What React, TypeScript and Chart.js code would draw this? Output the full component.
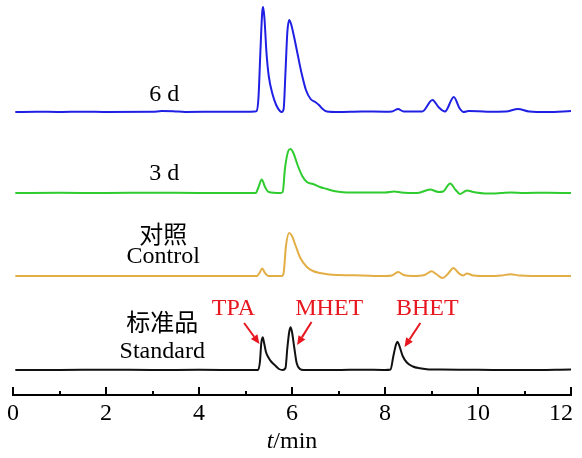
import { useEffect, useRef } from "react";
import { Chart, registerables } from "chart.js";

Chart.register(...registerables);

// ---- data (t in min, signal above each trace's baseline) ----
const xTickValues = [0, 2, 4, 6, 8, 10, 12];
const minorTickValues = [1, 3, 5, 7, 9, 11];

const traceNames = ["6 d", "3 d", "对照 Control", "标准品 Standard"];
const traceOffsets = [283, 202, 119, 25];
const traceColors = ["#2020e4", "#2ecc2e", "#e3ae45", "#111111"];

const t6d = [0.05, 0.5, 1.0, 1.5, 2.0, 3.0, 3.2, 3.45, 3.7, 4.5, 5.0, 5.2, 5.24, 5.28, 5.32, 5.36, 5.38, 5.41, 5.45, 5.5, 5.58, 5.66, 5.74, 5.78, 5.82, 5.86, 5.9, 5.94, 5.98, 6.05, 6.12, 6.2, 6.3, 6.4, 6.5, 6.58, 6.66, 6.75, 7.0, 7.5, 8.0, 8.15, 8.28, 8.4, 8.8, 9.02, 9.15, 9.29, 9.48, 9.6, 9.69, 9.8, 10.2, 10.6, 10.86, 11.1, 11.5, 12.0];
const y6d = [0, 0.3, 0, 0.3, 0, 0.2, 1.0, 0.8, 0, 0.3, 0.2, 0.5, 1, 15, 60, 100, 105, 92, 60, 36, 18, 7, 1, 0, 3, 40, 80, 92, 88, 74, 58, 40, 22, 13, 10, 7, 3, 0.5, 0, 0.5, 0.3, 0.5, 3, 0.5, 0.5, 12, 5, 0.5, 15, 4, 0, 1, 0.3, 0.5, 3, 0.5, 0, 1];

const t3d = [0.05, 1, 2, 3, 4, 5, 5.22, 5.28, 5.35, 5.42, 5.5, 5.75, 5.8, 5.85, 5.92, 5.97, 6.03, 6.12, 6.22, 6.32, 6.45, 6.6, 6.75, 6.9, 7.1, 7.5, 8.0, 8.2, 8.35, 8.7, 8.97, 9.15, 9.25, 9.4, 9.52, 9.61, 9.76, 9.9, 10.2, 10.5, 10.7, 11, 11.5, 12];
const y3d = [0, 0.2, 0, 0.3, 0, 0, 0, 6, 13.5, 6, 1, 0, 1, 25, 42, 44, 40, 28, 17, 11, 9, 6, 4, 2, 0.8, 0.5, 0.5, 1.5, 0.5, 0, 3.5, 1, 1.5, 9.5, 3, -1, 2.5, 1, -0.5, 0, 0.5, 0, 0.3, 0];

const tCtrl = [0.05, 2, 4, 5.0, 5.25, 5.3, 5.36, 5.42, 5.5, 5.78, 5.82, 5.87, 5.94, 6.0, 6.08, 6.18, 6.32, 6.45, 6.6, 6.8, 7.0, 7.5, 8.0, 8.15, 8.28, 8.4, 8.6, 8.85, 9.0, 9.1, 9.24, 9.35, 9.47, 9.58, 9.68, 9.76, 9.9, 10.2, 10.5, 10.7, 10.9, 11.5, 12];
const yCtrl = [0, 0, 0, 0, 0, 3, 7.4, 3, 0, 0, 3, 30, 43, 40, 30, 18, 9, 5, 3, 1.5, 1, 0.5, 0, 0.5, 4, 1, 0, 1, 4.7, 2, -2, 2, 8, 3, 0.5, 2.5, 0.5, 0, 0.5, 1.8, 0.5, 0, 0];

const tStd = [0.05, 1, 2, 3, 4, 5, 5.27, 5.31, 5.34, 5.37, 5.4, 5.44, 5.5, 5.56, 5.65, 5.72, 5.8, 5.86, 5.9, 5.94, 5.97, 6.0, 6.05, 6.1, 6.17, 6.25, 7, 7.5, 8.0, 8.12, 8.18, 8.24, 8.27, 8.31, 8.38, 8.47, 8.6, 8.75, 8.9, 9.2, 10, 11, 12];
const yStd = [0, 0, 0.3, 0, 0.2, 0, 0, 8, 27, 32.7, 27, 18, 12, 8, 4, 1, 0, 2, 22, 38, 42.7, 38, 22, 7, 1, 0, 0, 0.3, 0, 0.5, 14, 26, 28.3, 24, 14, 7.5, 3.5, 1.7, 0.8, 0.4, 0.2, 0, 0.5];

const traceTimes = [t6d, t3d, tCtrl, tStd];
const traceValues = [y6d, y3d, yCtrl, yStd];

// trace labels: [text lines], anchor t, anchor y (chart units)
const traceLabelLines = [["6 d"], ["3 d"], ["对照", "Control"], ["标准品", "Standard"]];
const traceLabelT = [3.25, 3.25, 3.23, 3.21];
const traceLabelY = [[300], [221], [158, 138], [70, 43]];

// peak annotations (standard)
const peakNames = ["TPA", "MHET", "BHET"];
const peakLabelT = [4.74, 6.8, 8.91];
const peakLabelY = [86, 86, 86];
const arrowFromT = [4.97, 6.42, 8.76];
const arrowFromY = [72, 73, 72];
const arrowToT = [5.3, 6.11, 8.42];
const arrowToY = [51, 50, 48];

const SERIF = '"Liberation Serif", "Times New Roman", "Noto Sans CJK SC", serif';
const FS = 24;

const decorPlugin = {
  id: "decor",
  afterDraw(chart: any) {
    const ctx = chart.ctx;
    const xs = chart.scales.x;
    const ys = chart.scales.y;
    const axisY = chart.chartArea.bottom;
    ctx.save();
    // inward tick marks
    ctx.strokeStyle = "#000";
    ctx.lineWidth = 2;
    xTickValues.forEach((v) => {
      const px = Math.round(xs.getPixelForValue(v));
      ctx.beginPath();
      ctx.moveTo(px, axisY);
      ctx.lineTo(px, axisY - 8);
      ctx.stroke();
    });
    minorTickValues.forEach((v) => {
      const px = Math.round(xs.getPixelForValue(v));
      ctx.beginPath();
      ctx.moveTo(px, axisY);
      ctx.lineTo(px, axisY - 4);
      ctx.stroke();
    });
    // tick labels from the scale's ticks
    ctx.fillStyle = "#000";
    ctx.textBaseline = "middle";
    ctx.textAlign = "left";
    ctx.font = FS + "px " + SERIF;
    xs.ticks.forEach((tk: any) => {
      const s = String(tk.value);
      const w = ctx.measureText(s).width;
      let left = xs.getPixelForValue(tk.value) - w / 2;
      if (left + w > chart.width - 9) left = chart.width - 9 - w;
      ctx.fillText(s, left, axisY + 19);
    });
    // axis title t/min
    const cx = xs.getPixelForValue(6);
    ctx.font = "italic " + FS + "px " + SERIF;
    const wT = ctx.measureText("t").width;
    ctx.font = FS + "px " + SERIF;
    const wR = ctx.measureText("/min").width;
    const startX = cx - (wT + wR) / 2;
    ctx.font = "italic " + FS + "px " + SERIF;
    ctx.fillText("t", startX, 442);
    ctx.font = FS + "px " + SERIF;
    ctx.fillText("/min", startX + wT, 442);

    // trace labels
    ctx.textAlign = "center";
    ctx.font = FS + "px " + SERIF;
    traceLabelLines.forEach((lines, i) => {
      lines.forEach((s, j) => {
        ctx.fillText(s, xs.getPixelForValue(traceLabelT[i]), ys.getPixelForValue(traceLabelY[i][j]));
      });
    });

    // peak labels and arrows
    ctx.fillStyle = "#e8161e";
    ctx.strokeStyle = "#e8161e";
    peakNames.forEach((s, i) => {
      ctx.fillText(s, xs.getPixelForValue(peakLabelT[i]), ys.getPixelForValue(peakLabelY[i]));
      const x1 = xs.getPixelForValue(arrowFromT[i]);
      const y1 = ys.getPixelForValue(arrowFromY[i]);
      const x2 = xs.getPixelForValue(arrowToT[i]);
      const y2 = ys.getPixelForValue(arrowToY[i]);
      const ang = Math.atan2(y2 - y1, x2 - x1);
      const hl = 9;
      const hw = 4;
      const bx = x2 - hl * Math.cos(ang);
      const by = y2 - hl * Math.sin(ang);
      ctx.lineWidth = 2;
      ctx.beginPath();
      ctx.moveTo(x1, y1);
      ctx.lineTo(bx, by);
      ctx.stroke();
      ctx.beginPath();
      ctx.moveTo(x2, y2);
      ctx.lineTo(bx + hw * Math.sin(ang), by - hw * Math.cos(ang));
      ctx.lineTo(bx - hw * Math.sin(ang), by + hw * Math.cos(ang));
      ctx.closePath();
      ctx.fill();
    });
    ctx.restore();
  },
};

export default function App() {
  const ref = useRef<HTMLCanvasElement | null>(null);
  useEffect(() => {
    if (!ref.current) return;
    const datasets = traceTimes.map((ts, i) => ({
      label: traceNames[i],
      data: ts.map((t, k) => ({ x: t, y: traceOffsets[i] + traceValues[i][k] })),
      borderColor: traceColors[i],
      backgroundColor: traceColors[i],
      borderWidth: 2,
      pointRadius: 0,
      cubicInterpolationMode: "monotone" as const,
      fill: false,
    }));
    const chart = new Chart(ref.current, {
      type: "line",
      data: { datasets },
      options: {
        responsive: false,
        animation: false,
        layout: { padding: { left: 13, right: 11, top: 5, bottom: 0 } },
        plugins: { legend: { display: false }, tooltip: { enabled: false }, title: { display: false } },
        scales: {
          x: {
            type: "linear",
            min: 0,
            max: 12,
            grid: { display: false, drawTicks: false },
            border: { display: true, color: "#000", width: 2 },
            ticks: {
              stepSize: 2,
              display: false,
              maxRotation: 0,
              autoSkip: false,
            },
            afterFit(scale: any) {
              scale.height = 63;
              scale.paddingLeft = 0;
              scale.paddingRight = 0;
            },
          },
          y: { type: "linear", min: 0, max: 390, display: false },
        },
      },
      plugins: [decorPlugin],
    });
    return () => chart.destroy();
  }, []);
  return (
    <div style={{ position: "absolute", left: 0, top: 0, width: 582, height: 458, background: "#fff" }}>
      <canvas ref={ref} width={582} height={458} style={{ display: "block" }} />
    </div>
  );
}
